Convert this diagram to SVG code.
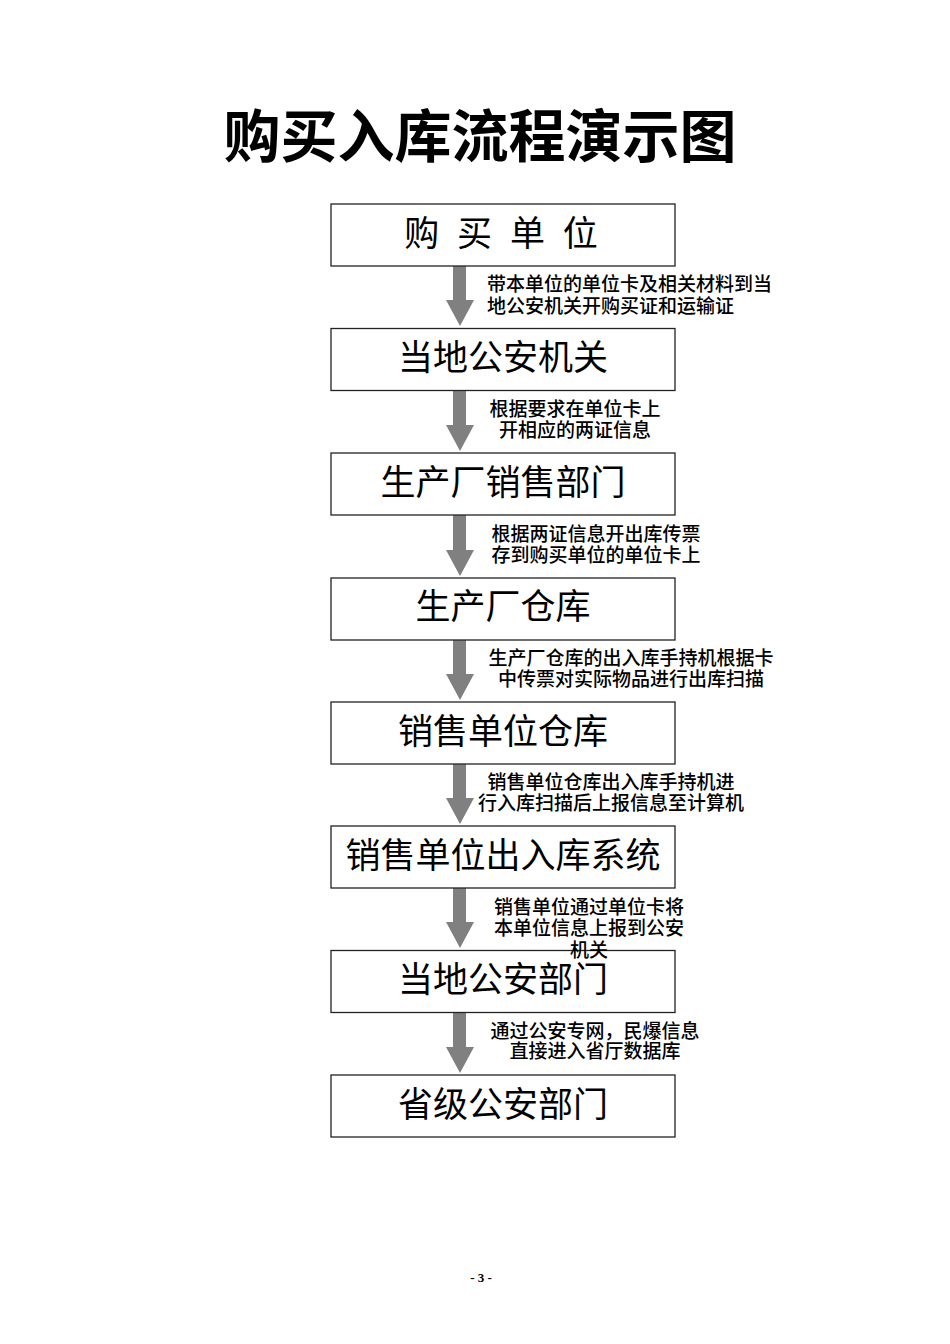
<svg xmlns="http://www.w3.org/2000/svg" width="950" height="1344" viewBox="0 0 950 1344">
<style>
.box{fill:#fff;stroke:#222;stroke-width:1.3}
.bt{font-family:"Noto Sans CJK SC","Noto Sans",sans-serif;font-size:35px;fill:#000;text-anchor:middle}
.lb{font-family:"Noto Sans CJK SC","Noto Sans",sans-serif;font-size:19px;font-weight:500;fill:#000}
.c{text-anchor:middle}
.arr{fill:#808080}
</style>
<rect width="950" height="1344" fill="#fff"/>
<text x="480" y="157" font-family="'Noto Sans CJK SC',sans-serif" font-size="57" font-weight="bold" text-anchor="middle">购买入库流程演示图</text>
<g id="connectors">
<polygon class="arr" points="453,266 466,266 466,300 474,300 460,326 446,300 453,300"/>
<polygon class="arr" points="453,390 466,390 466,425 474,425 460,451 446,425 453,425"/>
<polygon class="arr" points="453,515 466,515 466,550 474,550 460,576 446,550 453,550"/>
<polygon class="arr" points="453,640 466,640 466,674 474,674 460,700 446,674 453,674"/>
<polygon class="arr" points="453,764 466,764 466,798 474,798 460,824 446,798 453,798"/>
<polygon class="arr" points="453,888 466,888 466,922 474,922 460,948 446,922 453,922"/>
<polygon class="arr" points="453,1012 466,1012 466,1047 474,1047 460,1073 446,1047 453,1047"/>
</g>
<g id="n1"><rect class="box" x="331" y="204" width="344" height="62"/><text class="bt" x="501" y="246" word-spacing="10">购 买 单 位</text></g>
<g id="n2"><rect class="box" x="331" y="328.5" width="344" height="62"/><text class="bt" x="503" y="370">当地公安机关</text></g>
<g id="n3"><rect class="box" x="331" y="453" width="344" height="62"/><text class="bt" x="503" y="495">生产厂销售部门</text></g>
<g id="n4"><rect class="box" x="331" y="578" width="344" height="62"/><text class="bt" x="503" y="619">生产厂仓库</text></g>
<g id="n5"><rect class="box" x="331" y="702" width="344" height="62"/><text class="bt" x="503" y="744">销售单位仓库</text></g>
<g id="n6"><rect class="box" x="331" y="826" width="344" height="62"/><text class="bt" x="503" y="868">销售单位出入库系统</text></g>
<g id="n7"><rect class="box" x="331" y="950.5" width="344" height="62"/><text class="bt" x="503" y="992">当地公安部门</text></g>
<g id="n8"><rect class="box" x="331" y="1075" width="344" height="62"/><text class="bt" x="503" y="1117">省级公安部门</text></g>
<g id="labels">
<text class="lb" x="487" y="291">带本单位的单位卡及相关材料到当</text>
<text class="lb" x="487" y="313">地公安机关开购买证和运输证</text>
<text class="lb c" x="575" y="416">根据要求在单位卡上</text>
<text class="lb c" x="575" y="437">开相应的两证信息</text>
<text class="lb c" x="596" y="541">根据两证信息开出库传票</text>
<text class="lb c" x="596" y="562">存到购买单位的单位卡上</text>
<text class="lb c" x="631" y="665">生产厂仓库的出入库手持机根据卡</text>
<text class="lb c" x="631" y="686">中传票对实际物品进行出库扫描</text>
<text class="lb c" x="611" y="789">销售单位仓库出入库手持机进</text>
<text class="lb c" x="611" y="810">行入库扫描后上报信息至计算机</text>
<text class="lb c" x="589" y="914">销售单位通过单位卡将</text>
<text class="lb c" x="589" y="935">本单位信息上报到公安</text>
<text class="lb c" x="589" y="957">机关</text>
<text class="lb c" x="595" y="1038">通过公安专网，民爆信息</text>
<text class="lb c" x="595" y="1058">直接进入省厅数据库</text>
</g>
<text x="481" y="1282" font-family="'Liberation Serif',serif" font-size="13" font-weight="bold" text-anchor="middle">- 3 -</text>
</svg>
